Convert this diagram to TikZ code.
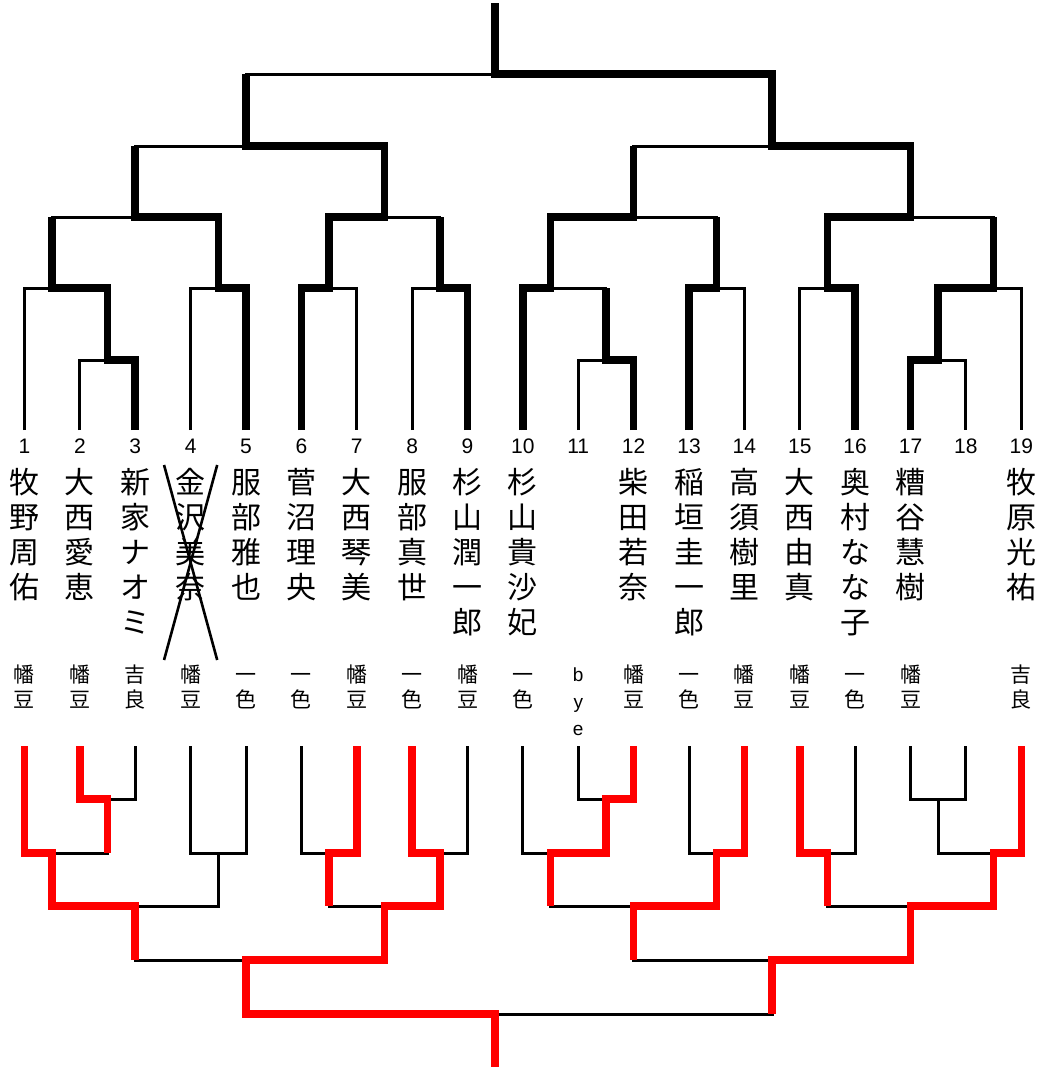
\documentclass[tikz,border=0pt]{standalone}
\usepackage{fontspec}
\setmainfont{Liberation Sans}
\newfontfamily\jpfont{Noto Sans CJK JP}
\newcommand\jtop{\vphantom{幡}}
\tikzset{
  bracket line/.style={draw=black, line width=3pt},
  top win/.style={draw=black, line width=7.5pt, line join=miter},
  bottom win/.style={draw=red, line width=7.5pt, line join=miter},
  withdrawn/.style={draw=black, line width=2.6pt},
  entry number/.style={font=\fontsize{21}{21}\selectfont, inner sep=0pt},
  entry name/.style={font=\jpfont\fontsize{30}{35}\selectfont, align=center, anchor=north, inner sep=0pt},
  entry club/.style={font=\jpfont\fontsize{21}{25}\selectfont, align=center, anchor=north, inner sep=0pt},
  entry bye/.style={font=\fontsize{19}{27}\selectfont, align=center, anchor=north, inner sep=0pt},
}

\begin{document}
\begin{tikzpicture}[x=55.375pt, y=-1pt]
\useasboundingbox (0.5576,0) rectangle (19.3206,1069);
% the entries
\foreach \i in {1,...,19} {
  \coordinate (t\i) at (\i,430);
  \coordinate (b\i) at (\i,746);
  \node[entry number] (num\i) at (\i,446) {\i};
}
\foreach \i/\nm in {1/{牧\\野\\周\\佑}, 2/{大\\西\\愛\\恵}, 3/{新\\家\\ナ\\オ\\ミ},
  4/{金\\沢\\美\\奈}, 5/{服\\部\\雅\\也}, 6/{菅\\沼\\理\\央}, 7/{大\\西\\琴\\美},
  8/{服\\部\\真\\世}, 9/{杉\\山\\潤\\一\\郎}, 10/{杉\\山\\貴\\沙\\妃},
  12/{柴\\田\\若\\奈}, 13/{稲\\垣\\圭\\一\\郎}, 14/{高\\須\\樹\\里},
  15/{大\\西\\由\\真}, 16/{奥\\村\\な\\な\\子}, 17/{糟\\谷\\慧\\樹}, 19/{牧\\原\\光\\祐}}
  \node[entry name] (name\i) at (\i,468) {\jtop\nm};
\foreach \i/\cl in {1/{幡\\豆}, 2/{幡\\豆}, 3/{吉\\良}, 4/{幡\\豆}, 5/{一\\色}, 6/{一\\色},
  7/{幡\\豆}, 8/{一\\色}, 9/{幡\\豆}, 10/{一\\色}, 12/{幡\\豆}, 13/{一\\色},
  14/{幡\\豆}, 15/{幡\\豆}, 16/{一\\色}, 17/{幡\\豆}, 19/{吉\\良}}
  \node[entry club] (club\i) at (\i,665) {\jtop\cl};
\node[entry bye] (club11) at (11,668) {b\\y\\e};

% cross over entry 4
\coordinate (crossA) at (3.52,465);
\coordinate (crossB) at (4.48,660);
\coordinate (crossC) at (4.48,465);
\coordinate (crossD) at (3.52,660);
\draw[withdrawn] (crossA) -- (crossB);
\draw[withdrawn] (crossC) -- (crossD);

% upper bracket junctions
\coordinate (tA) at (2.5,360);
\coordinate (tB) at (1.5,288);
\coordinate (tC) at (4.5,288);
\coordinate (tD) at (6.5,288);
\coordinate (tE) at (8.5,288);
\coordinate (tF) at (3,217);
\coordinate (tG) at (7.5,217);
\coordinate (tH) at (5,146);
\coordinate (tI) at (11.5,360);
\coordinate (tJ) at (10.5,288);
\coordinate (tK) at (13.5,288);
\coordinate (tL) at (15.5,288);
\coordinate (tM) at (17.5,360);
\coordinate (tN) at (18.5,288);
\coordinate (tO) at (12,217);
\coordinate (tP) at (17,217);
\coordinate (tQ) at (14.5,146);
\coordinate (tTop) at (9.5,74);
\coordinate (tEnd) at (9.5,3);

% lower bracket junctions
\coordinate (bA) at (2.5,799);
\coordinate (bB) at (1.5,853);
\coordinate (bC) at (4.5,853);
\coordinate (bD) at (6.5,853);
\coordinate (bE) at (8.5,853);
\coordinate (bF) at (3,906);
\coordinate (bG) at (7.5,906);
\coordinate (bH) at (5,960);
\coordinate (bI) at (11.5,799);
\coordinate (bJ) at (10.5,853);
\coordinate (bK) at (13.5,853);
\coordinate (bL) at (15.5,853);
\coordinate (bM) at (17.5,799);
\coordinate (bN) at (18.5,853);
\coordinate (bO) at (12,906);
\coordinate (bP) at (17,906);
\coordinate (bQ) at (14.5,960);
\coordinate (bTop) at (9.5,1014);
\coordinate (bEnd) at (9.5,1067);

%drawings of the brackets
\foreach \l/\j/\r in {t2/tA/t3, t1/tB/tA, t4/tC/t5, t6/tD/t7, t8/tE/t9, tB/tF/tC,
  tD/tG/tE, tF/tH/tG, t11/tI/t12, t10/tJ/tI, t13/tK/t14, t15/tL/t16, t17/tM/t18,
  tM/tN/t19, tJ/tO/tK, tL/tP/tN, tO/tQ/tP, tH/tTop/tQ,
  b2/bA/b3, b1/bB/bA, b4/bC/b5, b6/bD/b7, b8/bE/b9, bB/bF/bC,
  bD/bG/bE, bF/bH/bG, b11/bI/b12, b10/bJ/bI, b13/bK/b14, b15/bL/b16, b17/bM/b18,
  bM/bN/b19, bJ/bO/bK, bL/bP/bN, bO/bQ/bP, bH/bTop/bQ}
  \draw[bracket line] (\l) |- (\j) -| (\r);
\draw[bracket line] (tTop) -- (tEnd);
\draw[bracket line] (bTop) -- (bEnd);

%winners
\foreach \w/\j/\p in {t3/tA/tB, tA/tB/tF, t5/tC/tF, t6/tD/tG, t9/tE/tG, tC/tF/tH,
  tD/tG/tH, tG/tH/tTop, t12/tI/tJ, t10/tJ/tO, t13/tK/tO, t16/tL/tP, t17/tM/tN,
  tM/tN/tP, tJ/tO/tQ, tL/tP/tQ, tP/tQ/tTop, tQ/tTop/tEnd}
  \draw[top win] (\w) |- (\j) -- (\j |- \p);
\foreach \w/\j/\p in {b2/bA/bB, b1/bB/bF, b7/bD/bG, b8/bE/bG, bB/bF/bH, bE/bG/bH,
  bG/bH/bTop, bH/bTop/bEnd, b12/bI/bJ, bI/bJ/bO, b14/bK/bO, b15/bL/bP,
  b19/bN/bP, bK/bO/bQ, bN/bP/bQ, bP/bQ/bTop}
  \draw[bottom win] (\w) |- (\j) -- (\j |- \p);
\end{tikzpicture}
\end{document}
